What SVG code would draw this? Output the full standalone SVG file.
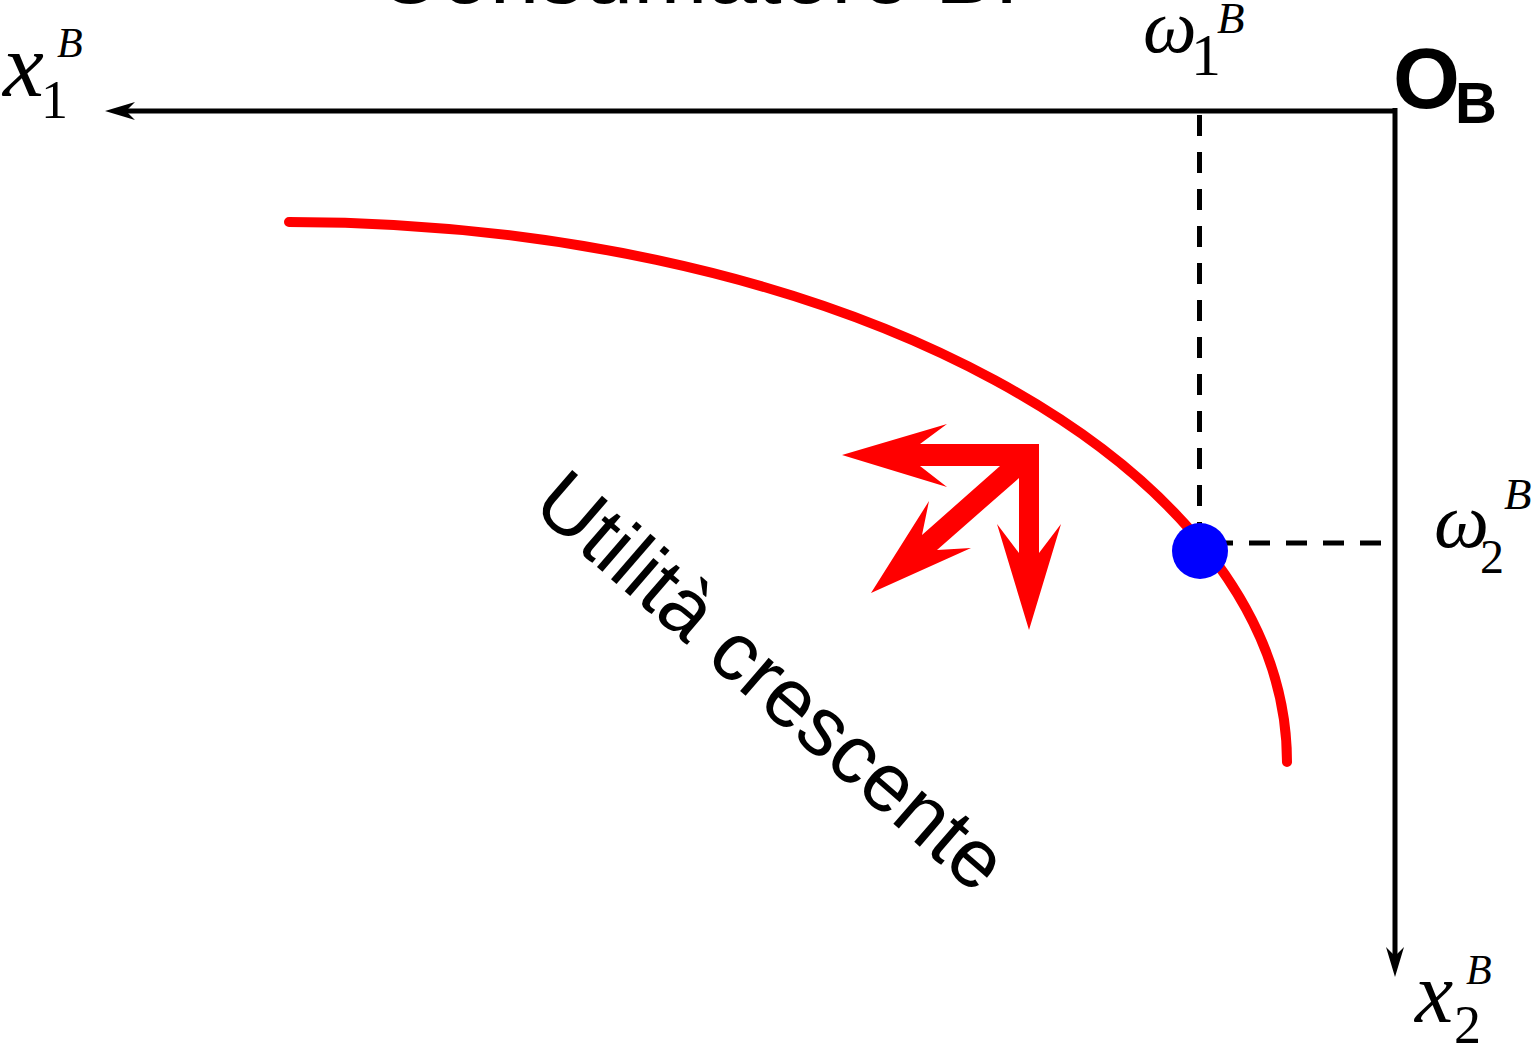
<svg xmlns="http://www.w3.org/2000/svg" width="1537" height="1048" viewBox="0 0 1537 1048">
<style>
.ax{stroke:#000;stroke-width:5;fill:none}
.dash{stroke:#000;stroke-width:5;fill:none;stroke-dasharray:21 16}
.it{font-family:"Liberation Serif","Times New Roman",serif;font-style:italic;fill:#000}
.rm{font-family:"Liberation Serif","Times New Roman",serif;fill:#000}
.sans{font-family:"Liberation Sans",Arial,sans-serif;fill:#000}
</style>
<defs>
<marker id="ah" viewBox="0 0 30 18" markerWidth="30" markerHeight="18" refX="12" refY="9" orient="auto" markerUnits="userSpaceOnUse">
<path d="M30,9 L0,0 L9,9 L0,18 Z" fill="#000"/>
</marker>
</defs>
<rect width="1537" height="1048" fill="#fff"/>
<g id="title"><text class="sans" x="376" y="3" font-size="89">Consumatore B:</text></g>
<g id="connectors">
<path class="ax" d="M1395,111 H123" marker-end="url(#ah)"/>
<path class="ax" d="M1395,108 V959" marker-end="url(#ah)"/>
<path class="dash" d="M1199.5,115 V540"/>
<path class="dash" d="M1381,543 H1205"/>
</g>
<g id="curve"><path d="M289,222 A998,540 0 0 1 1287,762" fill="none" stroke="#FF0000" stroke-width="10" stroke-linecap="round"/></g>
<g id="point"><circle cx="1200" cy="551" r="28" fill="#0000FF"/></g>
<g id="arrows"><path fill="#FF0000" d="M1039,444 L1039,553 L1061,524 L1029,630 L997,524 L1019,553 L1019,478 L937,550 L971,548 L871,593 L929,501 L922,535 L1000,466 L920,466 L947,487 L842,455 L947,424 L920,444 Z"/></g>
<g id="label-utility"><text class="sans" font-size="83" transform="translate(530,509) rotate(40.9)">Utilità crescente</text></g>
<g id="label-x1"><text class="it" x="3" y="96" font-size="92">x</text><text class="rm" x="41" y="118" font-size="54">1</text><text class="it" x="57" y="57" font-size="42">B</text></g>
<g id="label-w1"><text class="it" x="1143" y="52" font-size="76">ω</text><text class="rm" x="1191" y="75" font-size="60">1</text><text class="it" x="1217" y="33" font-size="45">B</text></g>
<g id="label-OB"><text class="sans" x="1393" y="108" font-size="86" font-weight="bold">O</text><text class="sans" x="1455" y="123" font-size="58" font-weight="bold">B</text></g>
<g id="label-w2"><text class="it" x="1434" y="547" font-size="78">ω</text><text class="rm" x="1480" y="573" font-size="48">2</text><text class="it" x="1504" y="509" font-size="45">B</text></g>
<g id="label-x2"><text class="it" x="1415" y="1022" font-size="86">x</text><text class="rm" x="1454" y="1043" font-size="54">2</text><text class="it" x="1466" y="984" font-size="42">B</text></g>
</svg>
